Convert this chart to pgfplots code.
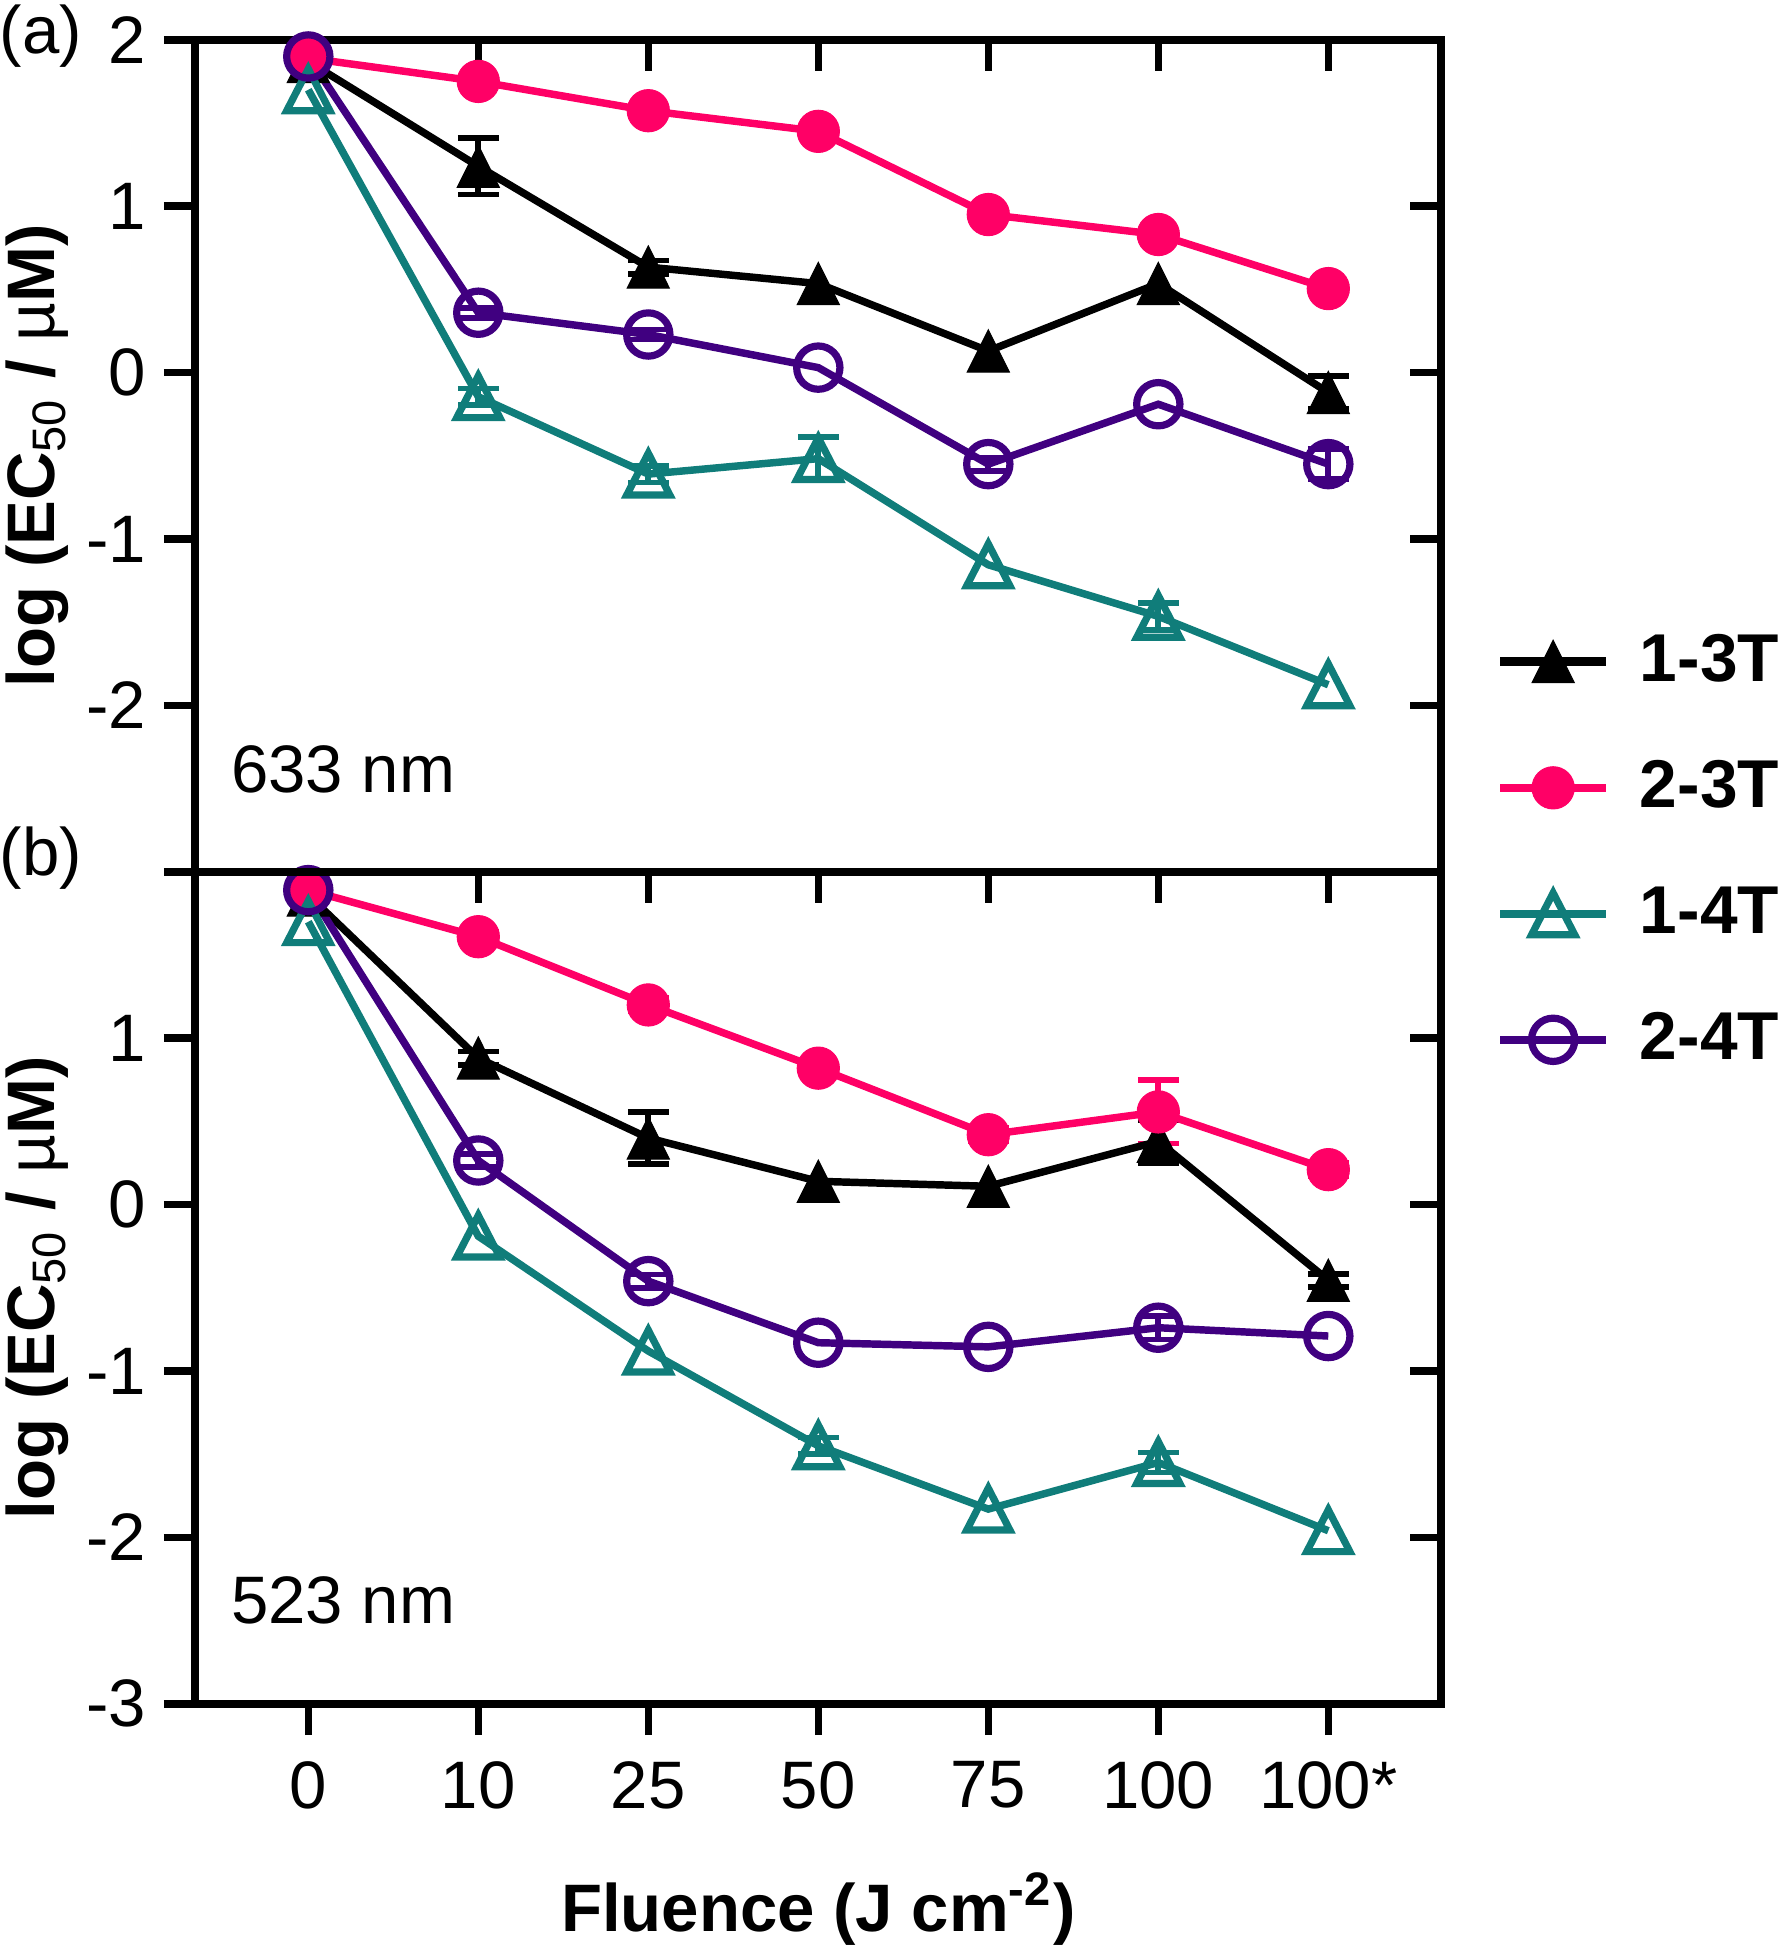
\documentclass[border=0pt]{standalone}
\usepackage{fontspec}
\setmainfont{Liberation Sans}
\usepackage{pgfplots}
\pgfplotsset{compat=1.18}
\usepackage{pgfplotstable}
\definecolor{pinkc}{RGB}{255,0,102}
\definecolor{tealc}{RGB}{16,125,122}
\definecolor{purplec}{RGB}{64,0,128}
\newcommand{\tfont}{\fontsize{13.5}{16}\selectfont}
\newcommand{\lfont}{\fontsize{13.5}{16}\selectfont\bfseries}
\newcommand{\gfont}{\fontsize{13.6}{16}\selectfont\bfseries}

% ---------- panel (a): 633 nm ----------
\pgfplotstableread{
x y
0 1.87
1 1.24
2 0.634
3 0.535
4 0.13
5 0.535
6 -0.12
}\aA
\pgfplotstableread{
x y
0 1.89
1 1.75
2 1.574
3 1.45
4 0.95
5 0.83
6 0.505
}\aB
\pgfplotstableread{
x y
0 1.70
1 -0.145
2 -0.61
3 -0.517
4 -1.155
5 -1.465
6 -1.876
}\aC
\pgfplotstableread{
x y
0 1.90
1 0.36
2 0.229
3 0.03
4 -0.55
5 -0.19
6 -0.55
}\aD
\pgfplotstableread{
x y e
1 1.24 0.17
2 0.634 0.04
6 -0.12 0.10
}\aAe
\pgfplotstableread{
x y e
1 -0.145 0.05
2 -0.61 0.05
3 -0.517 0.13
5 -1.465 0.08
}\aCe
\pgfplotstableread{
x y e
1 0.36 0.03
2 0.229 0.03
4 -0.55 0.04
6 -0.55 0.09
}\aDe

% ---------- panel (b): 523 nm ----------
\pgfplotstableread{
x y
0 1.86
1 0.88
2 0.40
3 0.14
4 0.11
5 0.38
6 -0.455
}\bA
\pgfplotstableread{
x y
0 1.89
1 1.61
2 1.20
3 0.82
4 0.42
5 0.557
6 0.21
}\bB
\pgfplotstableread{
x y
0 1.70
1 -0.19
2 -0.88
3 -1.45
4 -1.83
5 -1.55
6 -1.96
}\bC
\pgfplotstableread{
x y
0 1.89
1 0.265
2 -0.46
3 -0.83
4 -0.855
5 -0.74
6 -0.79
}\bD
\pgfplotstableread{
x y e
1 0.88 0.04
2 0.40 0.155
5 0.38 0.13
6 -0.455 0.04
}\bAe
\pgfplotstableread{
x y e
1 1.61 0.03
2 1.20 0.04
4 0.42 0.04
5 0.557 0.19
6 0.21 0.04
}\bBe
\pgfplotstableread{
x y e
3 -1.45 0.05
5 -1.55 0.06
}\bCe
\pgfplotstableread{
x y e
1 0.265 0.04
2 -0.46 0.04
5 -0.74 0.07
}\bDe

\pgfplotsset{
  panel/.style={scale only axis, width=250.5pt, height=167.25pt,
    xmin=-0.665, xmax=6.665, ymin=-3, ymax=2, clip=false,
    axis line style={line width=1.6pt},
    major tick length=6.3pt,
    every tick/.append style={line width=1.5pt, black},
    tick label style={font=\tfont},
  },
  s13/.style={black, line width=1.5pt, mark=triangle*, mark size=4.9pt,
    mark options={solid, fill=black, draw=black, line width=0.2pt, yshift=-1.4pt, yscale=1.157}},
  s23/.style={pinkc, line width=1.5pt, mark=*, mark size=4.25pt,
    mark options={solid, fill=pinkc, draw=pinkc, line width=0.2pt}},
  s14/.style={tealc, line width=1.5pt, mark=triangle, mark size=5.0pt,
    mark options={solid, draw=tealc, fill=none, line width=1.45pt, yshift=-1.4pt, yscale=1.12}},
  s24/.style={purplec, line width=1.5pt, mark=o, mark size=4.35pt,
    mark options={solid, draw=purplec, fill=none, line width=1.45pt}},
  errb/.style={forget plot, draw=none, mark=none,
    error bars/.cd, y dir=both, y explicit,
    error bar style={draw=#1, line width=1.15pt},
    error mark options={draw=#1, rotate=90, line width=1.15pt, mark size=4.1pt}},
}

\begin{document}
\begin{tikzpicture}
\useasboundingbox (-39.25pt,-49.5pt) rectangle (318.25pt,342.5pt);

% inner ticks (top and right) of panel (b)
\begin{axis}[panel, at={(0pt,0pt)}, anchor=south west, tick align=inside,
  xtick pos=right, ytick pos=right, xtick={0,...,6}, ytick={-2,-1,0,1},
  xticklabels={,,,,,,}, yticklabels={,,,}]
\end{axis}
% inner ticks (top and right) of panel (a)
\begin{axis}[panel, at={(0pt,167.25pt)}, anchor=south west, tick align=inside,
  xtick pos=right, ytick pos=right, xtick={0,...,6}, ytick={-2,-1,0,1},
  xticklabels={,,,,,,}, yticklabels={,,,}]
\end{axis}

% ---------- panel (b) ----------
\begin{axis}[panel, at={(0pt,0pt)}, anchor=south west, tick align=outside,
  xtick pos=left, ytick pos=left,
  xtick={0,...,6}, xticklabels={0,10,25,50,75,100,100*},
  xticklabel style={yshift=-1.8pt},
  ytick={-3,-2,-1,0,1,2}, yticklabels={-3,-2,-1,0,1,{}},
  xlabel={Fluence (J cm\textsuperscript{-2})},
  ylabel={log (EC\textsubscript{\mdseries 50} / {\mdseries µ}M)},
  xlabel style={at={(axis description cs:0.5,-0.2466)}, anchor=center, font=\lfont},
  ylabel style={at={(axis description cs:-0.1267,0.5)}, anchor=center, font=\lfont},
]
\addplot[errb=black] table[x=x,y=y,y error=e] {\bAe};
\addplot[errb=pinkc] table[x=x,y=y,y error=e] {\bBe};
\addplot[errb=tealc] table[x=x,y=y,y error=e] {\bCe};
\addplot[errb=purplec] table[x=x,y=y,y error=e] {\bDe};
\addplot[s13] table[x=x,y=y] {\bA};
\addplot[s23] table[x=x,y=y] {\bB};
\addplot[s14] table[x=x,y=y] {\bC};
\addplot[s24] table[x=x,y=y] {\bD};
\node[font=\tfont, inner sep=0pt] at (axis description cs:-0.1238,1.0164) {(b)};
\node[font=\tfont, anchor=west, inner sep=0pt] at (axis description cs:0.028,0.124) {523 nm};
\end{axis}

% ---------- panel (a) ----------
\begin{axis}[panel, at={(0pt,167.25pt)}, anchor=south west, tick align=outside,
  xtick=\empty, ytick pos=left,
  ytick={-2,-1,0,1,2}, yticklabels={-2,-1,0,1,2},
  ylabel={log (EC\textsubscript{\mdseries 50} / {\mdseries µ}M)},
  ylabel style={at={(axis description cs:-0.1267,0.5)}, anchor=center, font=\lfont},
  legend style={at={(axis description cs:1.044,0.0254)}, anchor=west, draw=none, fill=none,
    inner sep=0pt, outer sep=0pt, row sep=14.4pt, font=\gfont,
    nodes={inner sep=0pt, outer sep=0pt},
    /tikz/every odd column/.append style={column sep=6pt}},
  legend cell align=left,
  legend image code/.code={\draw[mark repeat=2,mark phase=2,#1,line width=1.7pt]
    plot coordinates {(0pt,0pt)(10.6pt,0pt)(21.2pt,0pt)};},
]
\addplot[errb=black] table[x=x,y=y,y error=e] {\aAe};
\addplot[errb=tealc] table[x=x,y=y,y error=e] {\aCe};
\addplot[errb=purplec] table[x=x,y=y,y error=e] {\aDe};
\addplot[s13] table[x=x,y=y] {\aA};
\addlegendentry{1-3T}
\addplot[s23] table[x=x,y=y] {\aB};
\addlegendentry{2-3T}
\addplot[s14] table[x=x,y=y] {\aC};
\addlegendentry{1-4T}
\addplot[s24] table[x=x,y=y] {\aD};
\addlegendentry{2-4T}
\node[font=\tfont, inner sep=0pt] at (axis description cs:-0.1238,1.0045) {(a)};
\node[font=\tfont, anchor=west, inner sep=0pt] at (axis description cs:0.028,0.1226) {633 nm};
\end{axis}
\end{tikzpicture}
\end{document}
